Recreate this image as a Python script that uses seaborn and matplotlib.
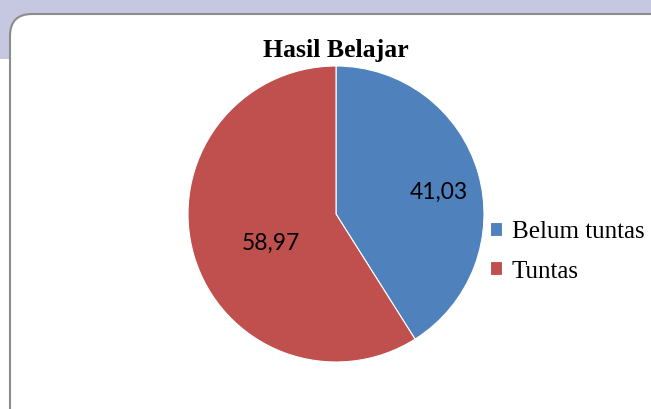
import matplotlib
matplotlib.use("Agg")
import matplotlib.pyplot as plt
import seaborn as sns
from matplotlib.patches import FancyBboxPatch, Rectangle

sns.set_theme(style="white")

title = "Hasil Belajar"
categories = ["Belum tuntas", "Tuntas"]
values = [41.03, 58.97]
value_labels = ["41,03", "58,97"]
colors = ["#4F81BD", "#C0504D"]

W, H = 651, 410
fig = plt.figure(figsize=(W / 100, H / 100), dpi=100)
fig.patch.set_facecolor("white")

# background strip and chart frame (figure pixel coords)
bg = fig.add_axes([0, 0, 1, 1])
bg.set_xlim(0, W)
bg.set_ylim(H, 0)
bg.axis("off")
bg.add_patch(Rectangle((0, 0), W, 60, facecolor="#c6c8e2", edgecolor="none"))
bg.add_patch(FancyBboxPatch((10, 15), W + 40, H + 40,
                            boxstyle="round,pad=0,rounding_size=22",
                            facecolor="white", edgecolor="#8c8c8c", linewidth=1.5))

# pie axes: center (336,215), radius 148 px
cx, cy, r = 336, 215, 148
ax = fig.add_axes([(cx - r) / W, (H - cy - r) / H, 2 * r / W, 2 * r / H])
wedges, _ = ax.pie(values, colors=colors, startangle=90, counterclock=False,
                   radius=1.0, wedgeprops=dict(linewidth=0.8, edgecolor="white"))
ax.set_xlim(-1, 1)
ax.set_ylim(-1, 1)
ax.set_aspect("auto")
ax.axis("off")

label_pos = [(0.696, 0.155), (-0.44, -0.19)]
for (x, y), t in zip(label_pos, value_labels):
    ax.text(x, y, t, ha="center", va="center", fontsize=16.5,
            family=["Lato", "DejaVu Sans"], color="black")

fig.text(cx / W, 1 - 51 / H, title, ha="center", va="center", fontsize=18.5,
         fontweight="bold", color="black",
         family=["Liberation Serif", "DejaVu Serif"])

leg = fig.legend(wedges, categories, loc="center left",
                 bbox_to_anchor=(477 / W, 1 - 252 / H), frameon=False,
                 prop={"family": ["Liberation Serif", "DejaVu Serif"], "size": 18},
                 handlelength=0.5, handleheight=0.5, handletextpad=0.4,
                 labelspacing=0.68, borderpad=0)
for t in leg.get_texts():
    t.set_color("black")

fig.savefig("out.png", dpi=100)
